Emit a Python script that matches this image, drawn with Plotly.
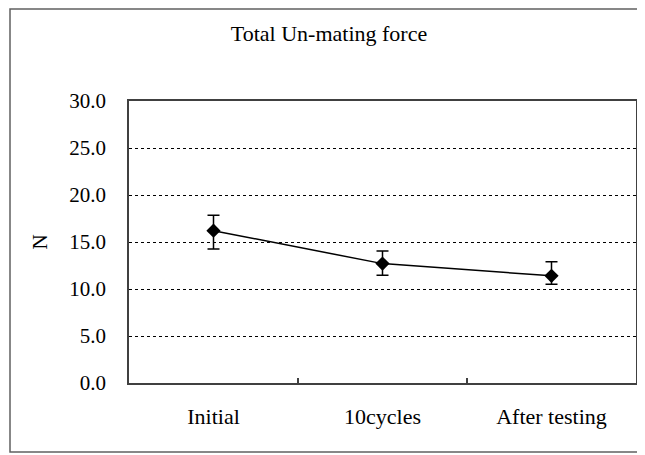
import plotly.graph_objects as go

categories = ["Initial", "10cycles", "After testing"]
means = [16.2, 12.7, 11.4]
err_plus = [1.65, 1.35, 1.5]
err_minus = [1.95, 1.25, 0.9]
y_ticks = [0, 5, 10, 15, 20, 25, 30]

font_family = "Liberation Serif, Times New Roman, serif"

# page body has an 8px default margin; layout values compensate for it
L, R, T, B = 121, 17, 93, 80
PW, PH = 645 - L - R, 455 - T - B

fig = go.Figure()
fig.add_trace(go.Scatter(
    x=categories, y=means, mode="lines+markers",
    line=dict(color="black", width=1.5),
    marker=dict(symbol="diamond", size=11, color="black"),
    error_y=dict(type="data", symmetric=False, array=err_plus, arrayminus=err_minus,
                 color="black", thickness=1.5, width=6),
    showlegend=False,
))

fig.update_layout(
    width=645, height=455,
    margin=dict(l=L, r=R, t=T, b=B),
    paper_bgcolor="white", plot_bgcolor="white",
    font=dict(family=font_family, size=21, color="black"),
    title=dict(text="Total Un-mating force", x=(329 - 8) / 645, xref="container",
               xanchor="center", y=1 - 25 / 455, yanchor="middle", font=dict(size=22)),
    xaxis=dict(type="category", range=[-0.5, 2.5], tickson="boundaries",
               ticks="inside", ticklen=5, tickcolor="#404040", tickwidth=1.5,
               tickfont=dict(size=22), ticklabelstandoff=13,
               showgrid=False, zeroline=False,
               showline=True, linecolor="#404040", linewidth=1.5, mirror=True),
    yaxis=dict(range=[0, 30], tickvals=y_ticks, tickformat=".1f", ticks="",
               ticklabelstandoff=17, showgrid=True, gridcolor="black",
               griddash="3px,3px", gridwidth=1, zeroline=False,
               showline=True, linecolor="#404040", linewidth=1.5, mirror=True,
               title=dict(text="N", standoff=16, font=dict(size=21))),
    shapes=[dict(type="rect", xref="paper", yref="paper",
                 x0=(2 - L) / PW, x1=(632 - L) / PW,
                 y0=(T + PH - 444) / PH, y1=(T + PH - 1) / PH,
                 line=dict(color="#606060", width=1.5), layer="below")],
)

fig.write_html("out.html")
